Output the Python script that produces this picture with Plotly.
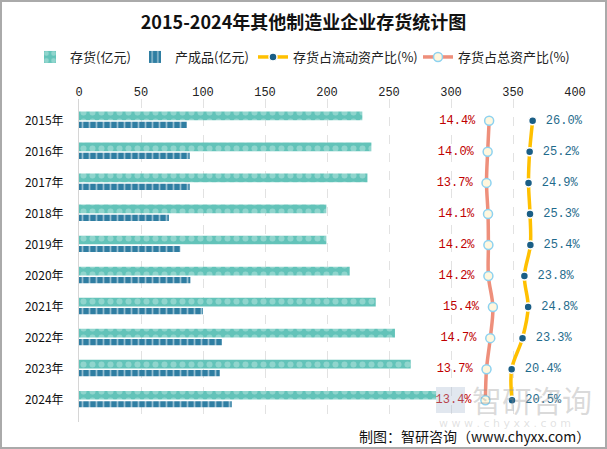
import plotly.graph_objects as go

# ---------------- data ----------------
years = ["2015年", "2016年", "2017年", "2018年", "2019年",
         "2020年", "2021年", "2022年", "2023年", "2024年"]
inventory = [228.5, 235.8, 232.6, 199.5, 199.5, 218.3, 239.3, 254.8, 267.5, 288.0]
finished_goods = [87.0, 89.3, 89.3, 72.5, 81.7, 89.8, 100.0, 115.3, 113.5, 123.2]
ratio_current = [26.0, 25.2, 24.9, 25.3, 25.4, 23.8, 24.8, 23.3, 20.4, 20.5]
ratio_total = [14.4, 14.0, 13.7, 14.1, 14.2, 14.2, 15.4, 14.7, 13.7, 13.4]
x_ticks = [0, 50, 100, 150, 200, 250, 300, 350, 400]

W, H = 607, 449
ML, MR, MT, MB = 79, 32, 99, 27
PW, PH = W - ML - MR, H - MT - MB

CJK = "Noto Sans CJK SC"
MONO = "Liberation Mono"

fig = go.Figure()

fig.add_trace(go.Bar(
    name="存货(亿元)", y=years, x=inventory, orientation="h",
    width=0.28, offset=-0.30, legend="legend", showlegend=True,
    marker=dict(color="#63C3B9", line=dict(width=0),
                pattern=dict(shape=".", size=9, solidity=0.35, fgcolor="#BDE8E2")),
    hoverinfo="x+y",
))
fig.add_trace(go.Bar(
    name="产成品(亿元)", y=years, x=finished_goods, orientation="h",
    width=0.2, offset=0.03, legend="legend2", showlegend=True,
    marker=dict(color="#2F7EA2", line=dict(width=0),
                pattern=dict(shape="|", size=7, solidity=0.25, fgcolor="#FFFFFF")),
    hoverinfo="x+y",
))
fig.add_trace(go.Scatter(
    name="存货占流动资产比(%)", y=years, x=ratio_current, xaxis="x2",
    mode="lines+markers+text", legend="legend3", showlegend=True,
    line=dict(color="#FFC000", width=3.5, shape="spline"),
    marker=dict(symbol="circle", size=8, color="#1A5E86",
                line=dict(color="#FFFFFF", width=1.5)),
    text=[f" {v:.1f}%" for v in ratio_current], textposition="middle right",
    textfont=dict(family=MONO, size=12, color="#1F6B8C"),
    cliponaxis=False,
))
fig.add_trace(go.Scatter(
    name="存货占总资产比(%)", y=years, x=ratio_total, xaxis="x2",
    mode="lines+markers+text", legend="legend4", showlegend=True,
    line=dict(color="#EE8F7B", width=3.5, shape="spline"),
    marker=dict(symbol="circle", size=9, color="#FFF7DE",
                line=dict(color="#8DD2F0", width=1.5)),
    text=[f"{v:.1f}% " for v in ratio_total], textposition="middle left",
    textfont=dict(family=MONO, size=12, color="#C00000"),
    cliponaxis=False,
))

# watermark and footer
annotations = [
    dict(text="智研咨询", xref="paper", yref="paper",
         x=(470 - ML) / PW, y=1 - (399 - MT) / PH, xanchor="left", yanchor="middle",
         showarrow=False, font=dict(family=CJK, size=30, color="rgba(150,150,150,0.35)")),
    dict(text="w w w . c h y x x . c o m", xref="paper", yref="paper",
         x=(437 - ML) / PW, y=1 - (423 - MT) / PH, xanchor="left", yanchor="middle",
         showarrow=False, font=dict(family="DejaVu Sans", size=11, color="rgba(170,170,170,0.35)")),
    dict(text="制图：智研咨询（www.chyxx.com）", xref="paper", yref="paper",
         x=(592 - ML) / PW, y=1 - (436 - MT) / PH, xanchor="right", yanchor="middle",
         showarrow=False, font=dict(family=CJK, size=14, color="#111111")),
]

shapes = [
    dict(type="rect", xref="paper", yref="paper",
         x0=(-ML + 1) / PW, x1=(PW + MR - 1) / PW,
         y0=(-MB + 1) / PH, y1=(PH + MT - 1) / PH,
         line=dict(color="#AAAAAA", width=2), fillcolor="rgba(0,0,0,0)", layer="above"),
    dict(type="rect", xref="paper", yref="paper",
         x0=(436 - ML) / PW, x1=(465 - ML) / PW,
         y0=1 - (413 - MT) / PH, y1=1 - (387 - MT) / PH,
         line=dict(width=0), fillcolor="rgba(170,185,210,0.35)", layer="above"),
]


def legend_at(text_x):
    return dict(orientation="h", x=(text_x - 40) / W, xref="container", xanchor="left",
                y=1 - 57 / H, yref="container", yanchor="middle",
                font=dict(family=CJK, size=13, color="#222222"),
                itemwidth=30, bgcolor="rgba(0,0,0,0)", borderwidth=0)


fig.update_layout(
    width=W, height=H,
    showlegend=True,
    margin=dict(l=ML, r=MR, t=MT, b=MB, autoexpand=False),
    paper_bgcolor="white", plot_bgcolor="white",
    barmode="overlay",
    title=dict(text="<b>2015-2024年其他制造业企业存货统计图</b>",
               x=0.5, xref="container", xanchor="center",
               y=1 - 23 / H, yref="container", yanchor="middle",
               font=dict(family=CJK, size=18, color="#111111")),
    legend=legend_at(70),
    legend2=legend_at(175),
    legend3=legend_at(293),
    legend4=legend_at(458),
    xaxis=dict(range=[0, 400], side="top", tickvals=x_ticks,
               showgrid=True, gridcolor="#E2E2E2", griddash="dash", gridwidth=1,
               zeroline=False, showline=False, ticks="",
               tickfont=dict(family=MONO, size=12, color="#222222")),
    xaxis2=dict(range=[-95, 37.3], overlaying="x", visible=False),
    yaxis=dict(type="category", autorange="reversed",
               showline=True, linecolor="#D6D6D6", linewidth=1,
               showgrid=False, zeroline=False,
               ticks="outside", ticklen=12, tickcolor="rgba(0,0,0,0)",
               tickfont=dict(family=CJK, size=12, color="#111111")),
    annotations=annotations,
    shapes=shapes,
    font=dict(family=CJK),
)

fig.write_html("out.html", config={"displayModeBar": False},
               post_script="document.body.style.margin='0';document.body.style.padding='0';")
